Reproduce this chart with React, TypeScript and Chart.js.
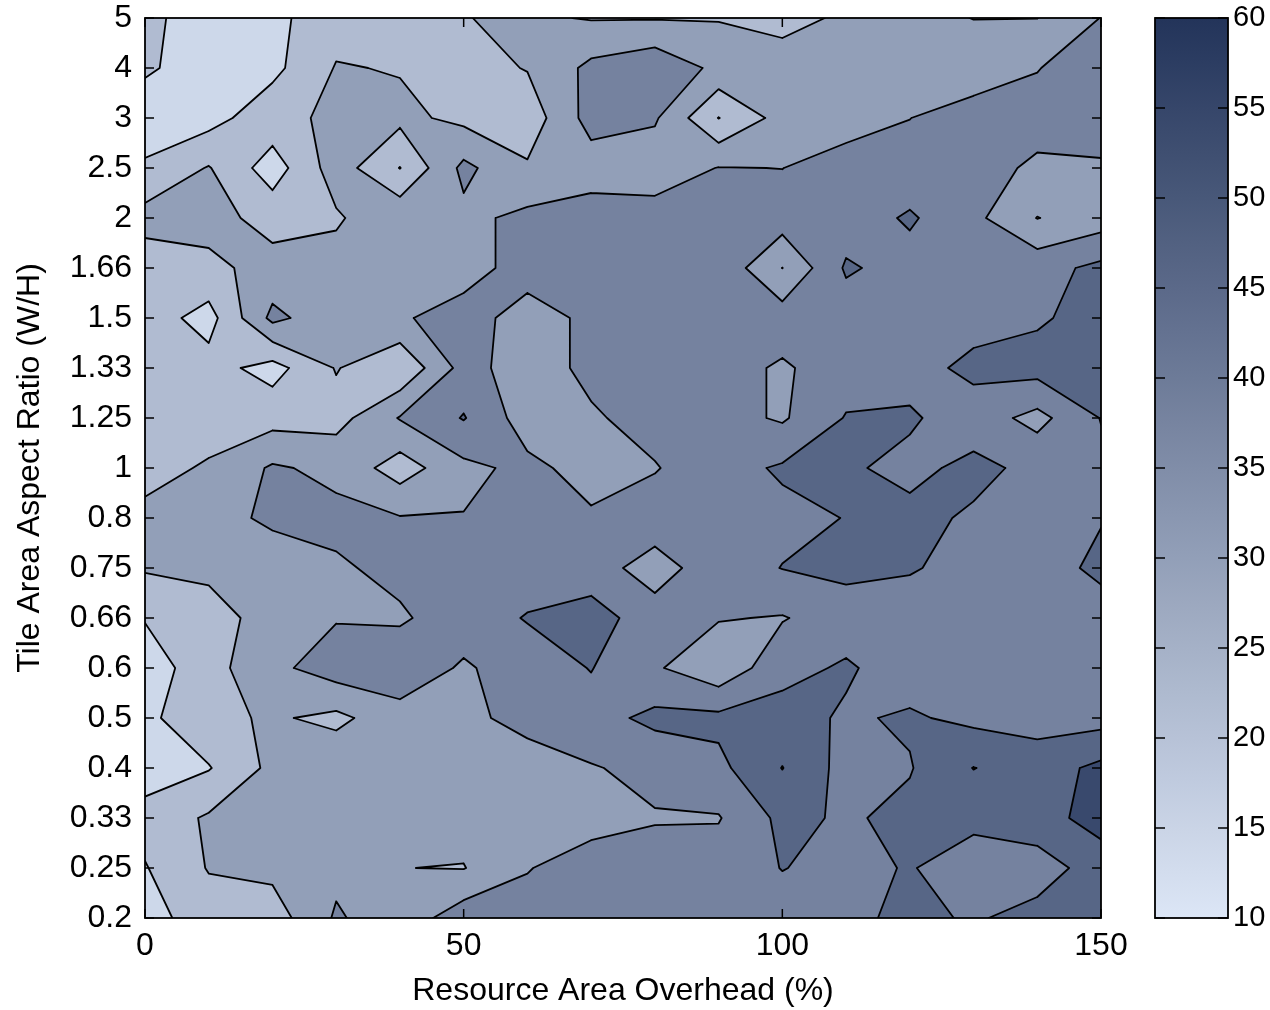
import React, { useEffect, useRef } from "react";
import { Chart, registerables } from "chart.js";

Chart.register(...registerables);

// ---------------- data ----------------
const xValues = [0, 10, 20, 30, 40, 50, 60, 70, 80, 90, 100, 110, 120, 130, 140, 150];
const yLabels = ["0.2", "0.25", "0.33", "0.4", "0.5", "0.6", "0.66", "0.75", "0.8", "1", "1.25", "1.33", "1.5", "1.66", "2", "2.5", "3", "4", "5"];
const xTickValues = [0, 50, 100, 150];
const contourLevels = [14, 22, 30, 38, 46, 54];
const colorbarTicks = [10, 15, 20, 25, 30, 35, 40, 45, 50, 55, 60];
const colorRange = [10, 60];

// zGrid[i] is the row for yLabels[i]; columns follow xValues
const zGrid: number[][] = [
  [19, 26, 26.1, 39, 33, 42.6, 42, 43, 42, 42, 43, 44, 48, 45.1, 48.9, 49],
  [21.5, 30.5, 32, 36, 30.1, 29.7, 37.5, 43, 41, 42, 46.2, 44, 46.5, 42, 42, 50],
  [25, 31, 33, 34, 34, 33, 33, 34, 37.5, 37.5, 48, 45, 48, 48, 51, 57],
  [18, 21.5, 32, 36, 35, 34, 35.1, 37.5, 40, 44, 54.2, 43, 45.5, 54.2, 50, 56],
  [20, 28, 31, 28, 35, 36.5, 40, 43, 48, 48, 49, 45, 47, 44, 43, 43],
  [17.5, 27, 36, 42, 43, 37, 42, 46.3, 39, 32, 43.5, 47, 42, 42, 42, 42],
  [22.5, 28.5, 31.5, 37.5, 37, 42, 46.5, 50, 41, 38.5, 37.5, 42, 43, 42, 42, 42],
  [30.8, 30.8, 35, 37, 40, 42, 42, 41, 35, 42, 46.2, 48, 46.5, 44, 42, 48],
  [32.2, 36, 39, 40, 38.5, 38.3, 41, 39, 42, 43, 44, 46.2, 48, 45, 43, 45.5],
  [27, 31, 39, 36, 26, 36, 40, 35, 37.5, 43, 47, 47, 44, 48, 44, 44],
  [25, 26, 27, 27, 38.5, 46.5, 34, 37, 41, 41, 37, 46.5, 47, 42, 35.5, 46.3],
  [25, 25, 19, 30.5, 23, 41, 34, 40, 42, 41, 37, 42, 43, 48, 49, 50],
  [26, 19, 40, 33, 36.9, 42, 34, 40, 42, 42, 42, 42, 42, 43, 45, 49],
  [25.8, 28, 33, 33, 34, 34, 42, 39, 42, 44, 29.9, 47, 43, 42, 43, 48],
  [32.8, 33, 27, 29, 36, 36, 40, 42, 42, 42, 42, 42, 47, 40, 29.8, 34],
  [23.5, 30.5, 18, 34, 21.8, 40, 31, 34, 33, 38.3, 37.9, 42, 41, 40, 37.1, 37.5],
  [16, 19, 27, 32, 32, 28, 25.2, 41.2, 39, 21.8, 33, 34, 37.9, 42, 40, 40],
  [23.5, 17, 19.9, 30.5, 29.5, 27, 30.4, 40, 44, 36, 33, 32, 32, 33, 37.8, 41],
  [24, 18, 20, 26.7, 28, 29.8, 31.2, 29.5, 29.5, 29.5, 28, 31, 31.5, 29.9, 29.9, 38.2],
];

// ---------------- styling ----------------
const FONT = "'Liberation Sans', Arial, Helvetica, sans-serif";
const colorStops: [number, number[]][] = [
  [10, [220, 230, 246]],
  [35, [128, 141, 168]],
  [60, [35, 52, 90]],
];

function cmap(v: number): string {
  const x = Math.max(colorStops[0][0], Math.min(colorStops[colorStops.length - 1][0], v));
  for (let i = 0; i < colorStops.length - 1; i++) {
    const [a, ca] = colorStops[i];
    const [b, cb] = colorStops[i + 1];
    if (x >= a && x <= b) {
      const t = (x - a) / (b - a);
      const c = ca.map((q, k) => Math.round(q + t * (cb[k] - q)));
      return `rgb(${c[0]},${c[1]},${c[2]})`;
    }
  }
  return "#000";
}

// band k lies below contourLevels[k]; its colour is that of its lower bound
function bandColor(k: number): string {
  return cmap(k === 0 ? colorRange[0] : contourLevels[k - 1]);
}

type P = { x: number; y: number; v: number };

function interp(a: P, b: P, L: number): P {
  const t = (L - a.v) / (b.v - a.v);
  return { x: a.x + t * (b.x - a.x), y: a.y + t * (b.y - a.y), v: L };
}

function regionAbove(c: P[], L: number): P[][] {
  const above = c.map((p) => p.v >= L);
  const n = above.filter(Boolean).length;
  if (n === 0) return [];
  if (n === 4) return [c];
  if (n === 2 && above[0] === above[2]) {
    const center = (c[0].v + c[1].v + c[2].v + c[3].v) / 4;
    if (center < L) {
      const polys: P[][] = [];
      for (let i = 0; i < 4; i++) {
        if (!above[i]) continue;
        const prev = c[(i + 3) % 4];
        const cur = c[i];
        const next = c[(i + 1) % 4];
        polys.push([interp(prev, cur, L), cur, interp(cur, next, L)]);
      }
      return polys;
    }
  }
  const out: P[] = [];
  for (let i = 0; i < 4; i++) {
    const a = c[i];
    const b = c[(i + 1) % 4];
    const ai = a.v >= L;
    const bi = b.v >= L;
    if (ai) out.push(a);
    if (ai !== bi) out.push(interp(a, b, L));
  }
  return [out];
}

function segments(c: P[], L: number): [P, P][] {
  const above = c.map((p) => p.v >= L);
  const cross: (P | null)[] = [0, 1, 2, 3].map((i) => {
    const a = c[i];
    const b = c[(i + 1) % 4];
    return (a.v >= L) !== (b.v >= L) ? interp(a, b, L) : null;
  });
  const idx = [0, 1, 2, 3].filter((i) => cross[i] !== null);
  if (idx.length === 2) return [[cross[idx[0]]!, cross[idx[1]]!]];
  if (idx.length === 4) {
    const center = (c[0].v + c[1].v + c[2].v + c[3].v) / 4;
    const high = center >= L;
    const pairA = [[0, 1], [2, 3]];
    const pairB = [[1, 2], [3, 0]];
    const pairs = above[0] ? (high ? pairA : pairB) : high ? pairB : pairA;
    return pairs.map(([i, j]) => [cross[i]!, cross[j]!] as [P, P]);
  }
  return [];
}

const contourPlugin = {
  id: "contourFill",
  beforeDatasetsDraw(chart: any) {
    const { ctx, chartArea, scales } = chart;
    const px = xValues.map((v) => scales.x.getPixelForValue(v));
    const py = yLabels.map((_, i) => scales.y.getPixelForValue(i));
    const cells: P[][] = [];
    for (let r = 0; r < yLabels.length - 1; r++) {
      for (let c = 0; c < xValues.length - 1; c++) {
        cells.push([
          { x: px[c], y: py[r], v: zGrid[r][c] },
          { x: px[c + 1], y: py[r], v: zGrid[r][c + 1] },
          { x: px[c + 1], y: py[r + 1], v: zGrid[r + 1][c + 1] },
          { x: px[c], y: py[r + 1], v: zGrid[r + 1][c] },
        ]);
      }
    }
    ctx.save();
    ctx.beginPath();
    ctx.rect(chartArea.left, chartArea.top, chartArea.right - chartArea.left, chartArea.bottom - chartArea.top);
    ctx.clip();
    ctx.fillStyle = bandColor(0);
    ctx.fillRect(chartArea.left, chartArea.top, chartArea.right - chartArea.left, chartArea.bottom - chartArea.top);
    contourLevels.forEach((L, k) => {
      ctx.beginPath();
      for (const cell of cells) {
        for (const poly of regionAbove(cell, L)) {
          ctx.moveTo(poly[0].x, poly[0].y);
          for (let i = 1; i < poly.length; i++) ctx.lineTo(poly[i].x, poly[i].y);
          ctx.closePath();
        }
      }
      ctx.fillStyle = bandColor(k + 1);
      ctx.fill("nonzero");
    });
    ctx.beginPath();
    contourLevels.forEach((L) => {
      for (const cell of cells) {
        for (const [a, b] of segments(cell, L)) {
          ctx.moveTo(a.x, a.y);
          ctx.lineTo(b.x, b.y);
        }
      }
    });
    ctx.strokeStyle = "#000";
    ctx.lineWidth = 1.8;
    ctx.lineJoin = "round";
    ctx.lineCap = "round";
    ctx.stroke();
    ctx.restore();
  },
  afterDraw(chart: any) {
    const { ctx, chartArea, scales } = chart;
    const { left, right, top, bottom } = chartArea;
    const tl = 9;
    ctx.save();
    ctx.strokeStyle = "#000";
    ctx.lineWidth = 1.5;
    ctx.beginPath();
    yLabels.forEach((_, i) => {
      const y = scales.y.getPixelForValue(i);
      ctx.moveTo(left, y);
      ctx.lineTo(left + tl, y);
      ctx.moveTo(right, y);
      ctx.lineTo(right - tl, y);
    });
    xTickValues.forEach((v) => {
      const x = scales.x.getPixelForValue(v);
      ctx.moveTo(x, bottom);
      ctx.lineTo(x, bottom - tl);
      ctx.moveTo(x, top);
      ctx.lineTo(x, top + tl);
    });
    ctx.stroke();
    ctx.lineWidth = 1.8;
    ctx.strokeRect(left, top, right - left, bottom - top);
    ctx.restore();
  },
};

const colorbarPlugin = {
  id: "colorbarFill",
  beforeDatasetsDraw(chart: any) {
    const { ctx, chartArea, scales } = chart;
    const y0 = scales.y.getPixelForValue(colorRange[0]);
    const y1 = scales.y.getPixelForValue(colorRange[1]);
    const g = ctx.createLinearGradient(0, y0, 0, y1);
    for (let i = 0; i <= 20; i++) {
      const v = colorRange[0] + ((colorRange[1] - colorRange[0]) * i) / 20;
      g.addColorStop(i / 20, cmap(v));
    }
    ctx.save();
    ctx.fillStyle = g;
    ctx.fillRect(chartArea.left, chartArea.top, chartArea.right - chartArea.left, chartArea.bottom - chartArea.top);
    ctx.restore();
  },
  afterDraw(chart: any) {
    const { ctx, chartArea, scales } = chart;
    const { left, right, top, bottom } = chartArea;
    const tl = 10;
    ctx.save();
    ctx.strokeStyle = "#000";
    ctx.lineWidth = 1.5;
    ctx.beginPath();
    colorbarTicks.forEach((v) => {
      const y = scales.y.getPixelForValue(v);
      ctx.moveTo(left, y);
      ctx.lineTo(left + tl, y);
      ctx.moveTo(right, y);
      ctx.lineTo(right - tl, y);
    });
    ctx.stroke();
    ctx.lineWidth = 1.8;
    ctx.strokeRect(left, top, right - left, bottom - top);
    ctx.restore();
  },
};

export default function App() {
  const mainRef = useRef<HTMLCanvasElement>(null);
  const barRef = useRef<HTMLCanvasElement>(null);

  useEffect(() => {
    const tickFont = { family: FONT, size: 32 };
    const main = new Chart(mainRef.current as HTMLCanvasElement, {
      type: "scatter",
      data: { datasets: [{ data: [], pointRadius: 0 }] },
      plugins: [contourPlugin],
      options: {
        animation: false,
        responsive: false,
        devicePixelRatio: 1,
        layout: { padding: { top: 18, right: 39, left: 0, bottom: 0 } },
        plugins: { legend: { display: false }, tooltip: { enabled: false } },
        scales: {
          x: {
            type: "linear",
            min: 0,
            max: 150,
            grid: { display: false, drawTicks: false },
            border: { display: false },
            afterBuildTicks: (s: any) => {
              s.ticks = xTickValues.map((v) => ({ value: v }));
            },
            ticks: { color: "#000", font: tickFont, padding: 9, maxRotation: 0, autoSkip: false },
            title: { display: true, text: "Resource Area Overhead (%)", color: "#000", font: tickFont, padding: { top: 0, bottom: 0 } },
            afterFit: (s: any) => {
              s.height = 92;
              s.paddingLeft = 0;
              s.paddingRight = 0;
            },
          },
          y: {
            type: "linear",
            min: 0,
            max: yLabels.length - 1,
            grid: { display: false, drawTicks: false },
            border: { display: false },
            afterBuildTicks: (s: any) => {
              s.ticks = yLabels.map((_, i) => ({ value: i }));
            },
            ticks: {
              color: "#000",
              font: tickFont,
              padding: 13,
              autoSkip: false,
              callback: (v: any) => yLabels[Math.round(Number(v))] ?? "",
            },
            title: { display: true, text: "Tile Area Aspect Ratio (W/H)", color: "#000", font: tickFont, padding: { top: 11, bottom: 0 } },
            afterFit: (s: any) => {
              s.width = 145;
              s.paddingTop = 0;
              s.paddingBottom = 0;
            },
          },
        },
      },
    } as any);

    const bar = new Chart(barRef.current as HTMLCanvasElement, {
      type: "scatter",
      data: { datasets: [{ data: [], pointRadius: 0 }] },
      plugins: [colorbarPlugin],
      options: {
        animation: false,
        responsive: false,
        devicePixelRatio: 1,
        layout: { padding: { top: 18, right: 0, left: 15, bottom: 92 } },
        plugins: { legend: { display: false }, tooltip: { enabled: false } },
        scales: {
          x: { type: "linear", display: false, min: 0, max: 1 },
          y: {
            type: "linear",
            position: "right",
            min: colorRange[0],
            max: colorRange[1],
            grid: { display: false, drawTicks: false },
            border: { display: false },
            afterBuildTicks: (s: any) => {
              s.ticks = colorbarTicks.map((v) => ({ value: v }));
            },
            ticks: { color: "#000", font: { family: FONT, size: 29 }, padding: 5, autoSkip: false },
            afterFit: (s: any) => {
              s.width = 42;
              s.paddingTop = 0;
              s.paddingBottom = 0;
            },
          },
        },
      },
    } as any);

    return () => {
      main.destroy();
      bar.destroy();
    };
  }, []);

  return (
    <div style={{ position: "absolute", left: 0, top: 0, width: 1270, height: 1010, background: "#fff", overflow: "hidden" }}>
      <canvas ref={mainRef} width={1140} height={1010} style={{ position: "absolute", left: 0, top: 0, width: 1140, height: 1010 }} />
      <canvas ref={barRef} width={130} height={1010} style={{ position: "absolute", left: 1140, top: 0, width: 130, height: 1010 }} />
    </div>
  );
}
